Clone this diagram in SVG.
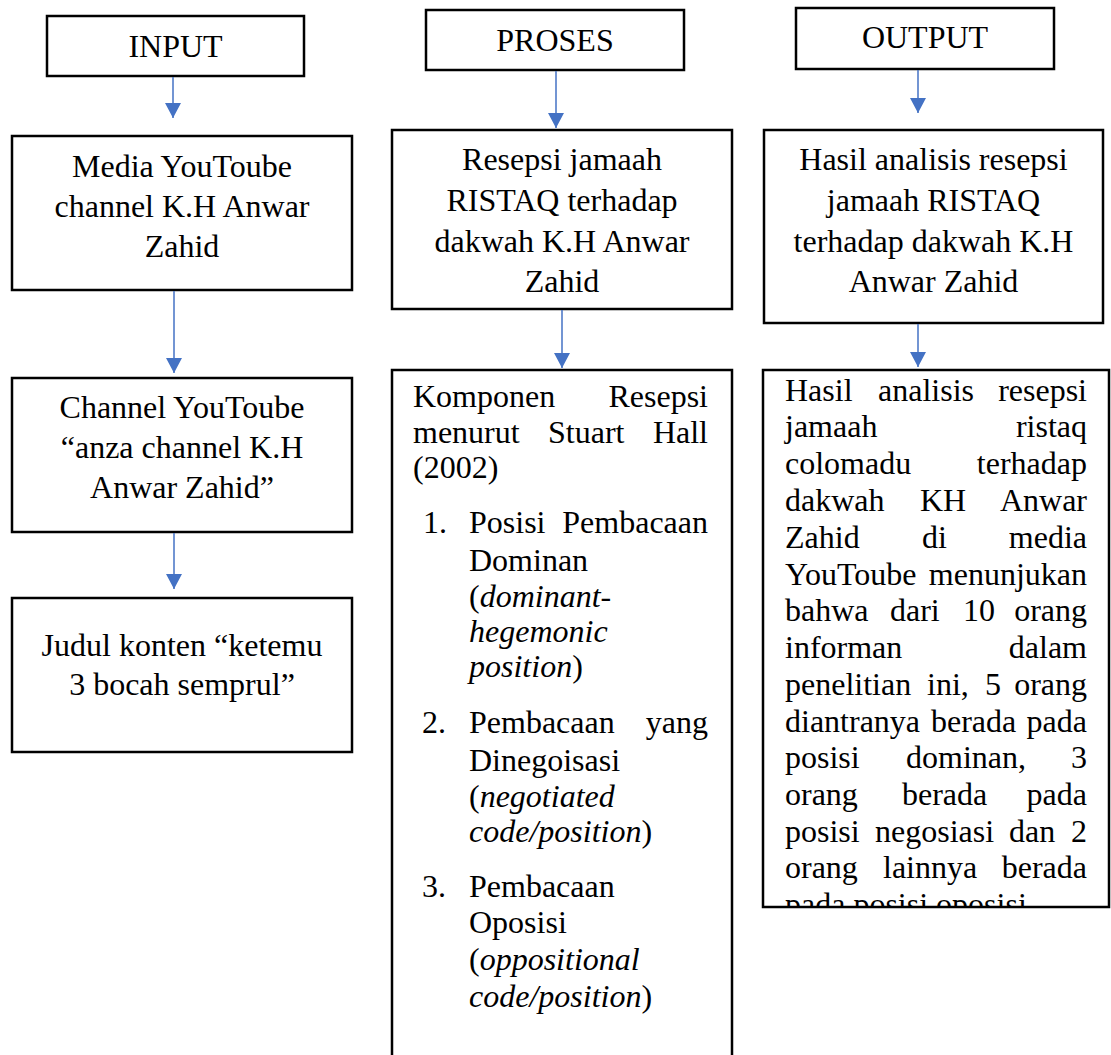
<svg xmlns="http://www.w3.org/2000/svg" width="1111" height="1055" viewBox="0 0 1111 1055">
<style>
.box{fill:#fff;stroke:#000;stroke-width:2.5}
.t{font-family:"Liberation Serif","Times New Roman",serif;font-size:32px;fill:#000}
.c{text-anchor:middle}
.e{text-anchor:end}
.i{font-style:italic}
.con{stroke:#4472C4;stroke-width:1.5;fill:none;marker-end:url(#ah)}
</style>
<defs>
<marker id="ah" markerUnits="userSpaceOnUse" markerWidth="15" markerHeight="16" viewBox="0 0 15 16" refX="15" refY="8" orient="auto">
<path d="M0,0 L15,8 L0,16 Z" fill="#4472C4"/>
</marker>
<clipPath id="clipOut"><rect x="763" y="370" width="347" height="537"/></clipPath>
</defs>
<rect width="1111" height="1055" fill="#fff"/>

<g id="input">
<rect class="box" x="47" y="16" width="257" height="60"/>
<text class="t c" x="175.5" y="57">INPUT</text>
</g>
<g id="media">
<rect class="box" x="12" y="136" width="340" height="154"/>
<text class="t c" x="182" y="177">Media YouToube</text>
<text class="t c" x="182" y="217">channel K.H Anwar</text>
<text class="t c" x="182" y="257">Zahid</text>
</g>
<g id="channel">
<rect class="box" x="12" y="378" width="340" height="154"/>
<text class="t c" x="182" y="418">Channel YouToube</text>
<text class="t c" x="182" y="458">“anza channel K.H</text>
<text class="t c" x="182" y="498">Anwar Zahid”</text>
</g>
<g id="judul">
<rect class="box" x="12" y="598" width="340" height="154"/>
<text class="t c" x="182" y="656">Judul konten “ketemu</text>
<text class="t c" x="182" y="695">3 bocah semprul”</text>
</g>

<g id="proses">
<rect class="box" x="426" y="10" width="258" height="60"/>
<text class="t c" x="555" y="51">PROSES</text>
</g>
<g id="resepsi">
<rect class="box" x="392" y="130" width="340" height="179"/>
<text class="t c" x="562" y="170">Resepsi jamaah</text>
<text class="t c" x="562" y="211">RISTAQ terhadap</text>
<text class="t c" x="562" y="252">dakwah K.H Anwar</text>
<text class="t c" x="562" y="292">Zahid</text>
</g>
<g id="komponen">
<rect class="box" x="392" y="370" width="340" height="700"/>
<text class="t" x="413" y="407">Komponen</text><text class="t e" x="708" y="407">Resepsi</text>
<text class="t" x="413" y="443">menurut</text><text class="t" x="548" y="443">Stuart</text><text class="t e" x="708" y="443">Hall</text>
<text class="t" x="413" y="478">(2002)</text>
<text class="t" x="423" y="533">1.</text><text class="t" x="469" y="533">Posisi</text><text class="t e" x="708" y="533">Pembacaan</text>
<text class="t" x="469" y="571">Dominan</text>
<text class="t" x="469" y="607">(<tspan class="i">dominant-</tspan></text>
<text class="t i" x="469" y="642">hegemonic</text>
<text class="t" x="469" y="677"><tspan class="i">position</tspan>)</text>
<text class="t" x="422" y="733">2.</text><text class="t" x="469" y="733">Pembacaan</text><text class="t e" x="708" y="733">yang</text>
<text class="t" x="469" y="771">Dinegoisasi</text>
<text class="t" x="469" y="807">(<tspan class="i">negotiated</tspan></text>
<text class="t" x="469" y="842"><tspan class="i">code/position</tspan>)</text>
<text class="t" x="422" y="897">3.</text><text class="t" x="469" y="897">Pembacaan</text>
<text class="t" x="469" y="933">Oposisi</text>
<text class="t" x="469" y="970">(<tspan class="i">oppositional</tspan></text>
<text class="t" x="469" y="1007"><tspan class="i">code/position</tspan>)</text>
</g>

<g id="output">
<rect class="box" x="796" y="8" width="258" height="61"/>
<text class="t c" x="925" y="48">OUTPUT</text>
</g>
<g id="hasil">
<rect class="box" x="764" y="130" width="339" height="193"/>
<text class="t c" x="933.5" y="170">Hasil analisis resepsi</text>
<text class="t c" x="933.5" y="211">jamaah RISTAQ</text>
<text class="t c" x="933.5" y="252">terhadap dakwah K.H</text>
<text class="t c" x="933.5" y="292">Anwar Zahid</text>
</g>
<g id="hasil-analisis">
<rect class="box" x="763" y="370" width="346" height="537"/>
<g clip-path="url(#clipOut)">
<text class="t" x="785" y="401">Hasil</text><text class="t" x="878" y="401">analisis</text><text class="t e" x="1087" y="401">resepsi</text>
<text class="t" x="785" y="437">jamaah</text><text class="t e" x="1087" y="437">ristaq</text>
<text class="t" x="785" y="474">colomadu</text><text class="t e" x="1087" y="474">terhadap</text>
<text class="t" x="785" y="511">dakwah</text><text class="t" x="920" y="511">KH</text><text class="t e" x="1087" y="511">Anwar</text>
<text class="t" x="785" y="548">Zahid</text><text class="t" x="922" y="548">di</text><text class="t e" x="1087" y="548">media</text>
<text class="t" x="785" y="585">YouToube</text><text class="t e" x="1087" y="585">menunjukan</text>
<text class="t" x="785" y="621">bahwa</text><text class="t" x="890" y="621">dari</text><text class="t" x="963" y="621">10</text><text class="t e" x="1087" y="621">orang</text>
<text class="t" x="785" y="658">informan</text><text class="t e" x="1087" y="658">dalam</text>
<text class="t" x="785" y="695">penelitian</text><text class="t" x="927" y="695">ini,</text><text class="t" x="985" y="695">5</text><text class="t e" x="1087" y="695">orang</text>
<text class="t" x="785" y="732">diantranya</text><text class="t" x="931" y="732">berada</text><text class="t e" x="1087" y="732">pada</text>
<text class="t" x="785" y="768">posisi</text><text class="t" x="906" y="768">dominan,</text><text class="t e" x="1087" y="768">3</text>
<text class="t" x="785" y="805">orang</text><text class="t" x="902" y="805">berada</text><text class="t e" x="1087" y="805">pada</text>
<text class="t" x="785" y="842">posisi</text><text class="t" x="875" y="842">negosiasi</text><text class="t" x="1009" y="842">dan</text><text class="t e" x="1087" y="842">2</text>
<text class="t" x="785" y="878">orang</text><text class="t" x="883" y="878">lainnya</text><text class="t e" x="1087" y="878">berada</text>
<text class="t" x="785" y="915">pada posisi oposisi</text>
</g>
</g>

<g id="connectors">
<line class="con" x1="173" y1="77" x2="173" y2="118"/>
<line class="con" x1="174" y1="291" x2="174" y2="373"/>
<line class="con" x1="174" y1="533" x2="174" y2="589"/>
<line class="con" x1="556" y1="71" x2="556" y2="128"/>
<line class="con" x1="562" y1="310" x2="562" y2="368"/>
<line class="con" x1="918" y1="70" x2="918" y2="113"/>
<line class="con" x1="918" y1="324" x2="918" y2="367"/>
</g>
</svg>
